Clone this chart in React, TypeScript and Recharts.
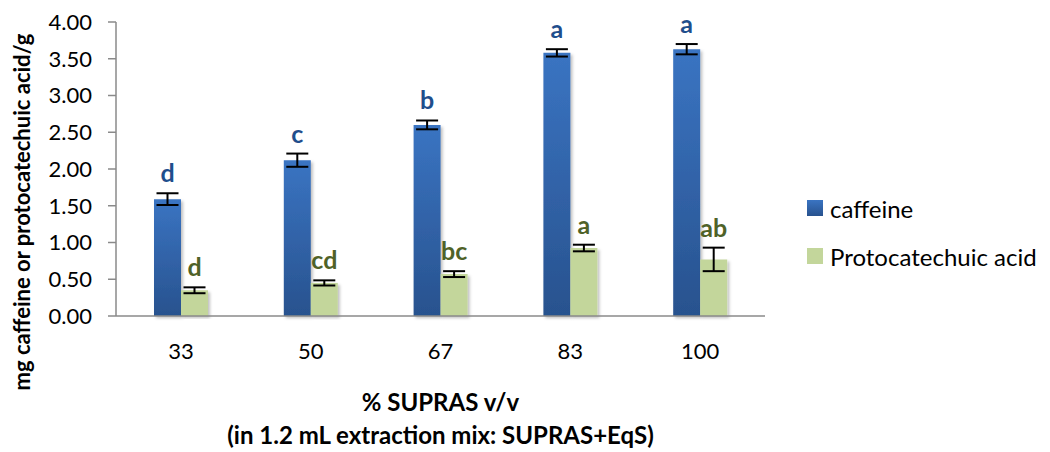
import React from 'react';
import { BarChart, Bar, XAxis, YAxis, ErrorBar, LabelList } from 'recharts';

// values
const categories = ['33', '50', '67', '83', '100'];
const caffeine = [1.59, 2.12, 2.6, 3.58, 3.63];
const caffeineErr = [0.08, 0.09, 0.06, 0.05, 0.07];
const protocatechuic = [0.35, 0.45, 0.57, 0.925, 0.77];
const protocatechuicErr = [0.04, 0.035, 0.04, 0.045, 0.16];
const caffeineLetters = ['d', 'c', 'b', 'a', 'a'];
const protocatechuicLetters = ['d', 'cd', 'bc', 'a', 'ab'];
const yTicks = [0, 0.5, 1, 1.5, 2, 2.5, 3, 3.5, 4];

const data = categories.map((c, i) => ({
  name: c,
  caffeine: caffeine[i],
  caffeineErr: caffeineErr[i],
  protocatechuic: protocatechuic[i],
  protocatechuicErr: protocatechuicErr[i],
}));

const FONT = 'Lato, "Open Sans", sans-serif';
const BLUE_TEXT = '#1F4E8C';
const GREEN_TEXT = '#4F6228';
const GREEN = '#C3D69B';

const letterLabel = (letters: string[], errs: number[], color: string) => (props: any) => {
  const { x, y, width, height, index, value } = props;
  const pxPerUnit = height / value;
  const top = y - errs[index] * pxPerUnit;
  return (
    <text
      x={x + width / 2}
      y={top - 11}
      textAnchor="middle"
      fill={color}
      fontSize={25}
      fontWeight="bold"
      fontFamily={FONT}
    >
      {letters[index]}
    </text>
  );
};

// legend drawn as an overlay so it does not shrink the plot area
const legendItems = [
  { label: 'caffeine', fill: 'url(#blueGrad)' },
  { label: 'Protocatechuic acid', fill: GREEN },
];

export default function App() {
  return (
    <div style={{ position: 'absolute', left: 0, top: 0, width: 1050, height: 452, background: '#fff' }}>
      <svg width={0} height={0} style={{ position: 'absolute' }}>
        <defs>
          <linearGradient id="blueGrad" x1="0" y1="0" x2="0" y2="1">
            <stop offset="0%" stopColor="#3A74C2" />
            <stop offset="100%" stopColor="#28528E" />
          </linearGradient>
          <filter id="barShadow" x="-20%" y="-5%" width="150%" height="115%">
            <feDropShadow dx="2" dy="2" stdDeviation="1.5" floodColor="#000" floodOpacity="0.25" />
          </filter>
        </defs>
      </svg>
      <BarChart
        width={1050}
        height={452}
        data={data}
        margin={{ top: 22, right: 285, bottom: 106, left: 0 }}
        barSize={27}
        barGap={0}
      >
        <XAxis
          dataKey="name"
          height={30}
          tickLine={false}
          axisLine={{ stroke: '#8A8A8A', strokeWidth: 1.5 }}
          tick={{ fill: '#000', fontSize: 22, fontFamily: FONT }}
          tickMargin={21}
          label={{
            content: (p: any) => {
              const vb = p.viewBox;
              const cx = vb.x + vb.width / 2;
              return (
                <g fontFamily={FONT} fontWeight="bold" fontSize={24} fill="#000" textAnchor="middle">
                  <text x={cx} y={vb.y + 95}>% SUPRAS v/v</text>
                  <text x={cx} y={vb.y + 128}>(in 1.2 mL extraction mix: SUPRAS+EqS)</text>
                </g>
              );
            },
          }}
        />
        <YAxis
          width={116}
          domain={[0, 4]}
          ticks={yTicks}
          interval={0}
          tickFormatter={(v: number) => v.toFixed(2)}
          tickSize={8}
          tickMargin={16}
          tickLine={{ stroke: '#8A8A8A', strokeWidth: 1.5 }}
          axisLine={{ stroke: '#8A8A8A', strokeWidth: 1.5 }}
          tick={{ fill: '#000', fontSize: 22, fontFamily: FONT }}
          label={{
            content: () => (
              <text
                x={0}
                y={0}
                transform="translate(30, 212) rotate(-90)"
                textAnchor="middle"
                fontFamily={FONT}
                fontWeight="bold"
                fontSize={22}
                fill="#000"
              >
                mg caffeine or protocatechuic acid/g
              </text>
            ),
          }}
        />
        <Bar dataKey="caffeine" name="caffeine" fill="url(#blueGrad)" filter="url(#barShadow)" isAnimationActive={false}>
          <ErrorBar dataKey="caffeineErr" width={11} stroke="#000" strokeWidth={2} direction="y" />
          <LabelList dataKey="caffeine" content={letterLabel(caffeineLetters, caffeineErr, BLUE_TEXT)} />
        </Bar>
        <Bar dataKey="protocatechuic" name="Protocatechuic acid" fill={GREEN} filter="url(#barShadow)" isAnimationActive={false}>
          <ErrorBar dataKey="protocatechuicErr" width={11} stroke="#000" strokeWidth={2} direction="y" />
          <LabelList dataKey="protocatechuic" content={letterLabel(protocatechuicLetters, protocatechuicErr, GREEN_TEXT)} />
        </Bar>
      </BarChart>
      <div style={{ position: 'absolute', left: 807, top: 194, fontFamily: FONT, fontSize: 24, color: '#000' }}>
        {legendItems.map((it, i) => (
          <div key={i} style={{ display: 'flex', alignItems: 'center', height: 28, marginBottom: i === 0 ? 20 : 0 }}>
            <svg width={16} height={16} style={{ marginRight: 7 }}>
              <rect width={16} height={16} fill={it.fill} />
            </svg>
            <span style={{ whiteSpace: 'nowrap' }}>{it.label}</span>
          </div>
        ))}
      </div>
    </div>
  );
}
